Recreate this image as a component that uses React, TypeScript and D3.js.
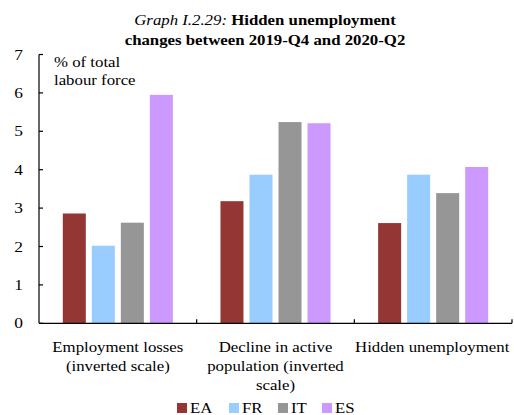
import React from "react";
import * as d3 from "d3";

const categories = [
  ["Employment losses", "(inverted scale)"],
  ["Decline in active", "population  (inverted", "scale)"],
  ["Hidden unemployment"],
];
const categoryKeys = ["emp", "decl", "hidden"];
const series = ["EA", "FR", "IT", "ES"];
const colors = ["#943634", "#99CCFF", "#969696", "#CC99FF"];
const EA = [2.86, 3.18, 2.61];
const FR = [2.02, 3.87, 3.87];
const IT = [2.62, 5.24, 3.39];
const ES = [5.95, 5.21, 4.07];
const yTicks = [0, 1, 2, 3, 4, 5, 6, 7];

const values = [EA, FR, IT, ES];
const FONT = "'Liberation Serif', 'Times New Roman', serif";
const SX = 1.12;

function T({ x, y, anchor = "start", size = 15, children, ...rest }: any) {
  return (
    <text
      transform={`translate(${x},${y}) scale(${SX},1)`}
      textAnchor={anchor}
      fontSize={size}
      fill="#000"
      style={{ fontFamily: FONT }}
      {...rest}
    >
      {children}
    </text>
  );
}

export default function App() {
  const W = 514, H = 415;
  const x0 = 39, x1 = 512, yTop = 54.5, yBot = 323.3;
  const y = d3.scaleLinear().domain([0, 7]).range([yBot, yTop]);
  const xb = d3.scaleBand().domain(categoryKeys).range([x0, x1]).padding(0);
  const xi = d3.scaleBand().domain(series).range([0, xb.bandwidth()]).paddingInner(0.207).paddingOuter(0.82);

  return (
    <svg width={W} height={H} style={{ position: "absolute", left: 0, top: 0, background: "#fff" }}>
      <T x={265} y={25} anchor="middle">
        <tspan fontStyle="italic">Graph I.2.29: </tspan>
        <tspan fontWeight="bold">Hidden unemployment</tspan>
      </T>
      <T x={265} y={45} anchor="middle" fontWeight="bold">
        changes between 2019-Q4 and 2020-Q2
      </T>
      <T x={54} y={67}>% of total</T>
      <T x={54} y={85}>labour force</T>

      {categoryKeys.map((k, ci) =>
        series.map((s, si) => (
          <rect
            key={k + s}
            x={(xb(k) as number) + (xi(s) as number)}
            y={y(values[si][ci])}
            width={xi.bandwidth()}
            height={yBot - y(values[si][ci])}
            fill={colors[si]}
          />
        ))
      )}

      <line x1={x0} x2={x0} y1={yTop} y2={yBot} stroke="#000" strokeWidth={1.2} />
      <line x1={x0} x2={x1} y1={yBot} y2={yBot} stroke="#000" strokeWidth={1.2} />
      {yTicks.map((t) => (
        <g key={t}>
          <line x1={x0} x2={x0 + 4} y1={y(t)} y2={y(t)} stroke="#000" strokeWidth={1.2} />
          <T x={23} y={y(t) + 5} anchor="end" size={15.5}>{t}</T>
        </g>
      ))}
      {categoryKeys.map((k) => {
        const xe = (xb(k) as number) + xb.bandwidth();
        return <line key={k} x1={xe} x2={xe} y1={yBot} y2={yBot - 4} stroke="#000" strokeWidth={1.2} />;
      })}
      {categoryKeys.map((k, ci) => {
        const cx = (xb(k) as number) + xb.bandwidth() / 2;
        return categories[ci].map((line, li) => (
          <T key={k + li} x={cx - (ci === 2 ? 1 : 0)} y={352 + li * 19} anchor="middle">{line}</T>
        ));
      })}
      {series.map((s, si) => {
        const lx = [177, 229, 278, 322][si];
        return (
          <g key={s}>
            <rect x={lx} y={403} width={10} height={10} fill={colors[si]} />
            <T x={lx + 13} y={412.5}>{s}</T>
          </g>
        );
      })}
    </svg>
  );
}
